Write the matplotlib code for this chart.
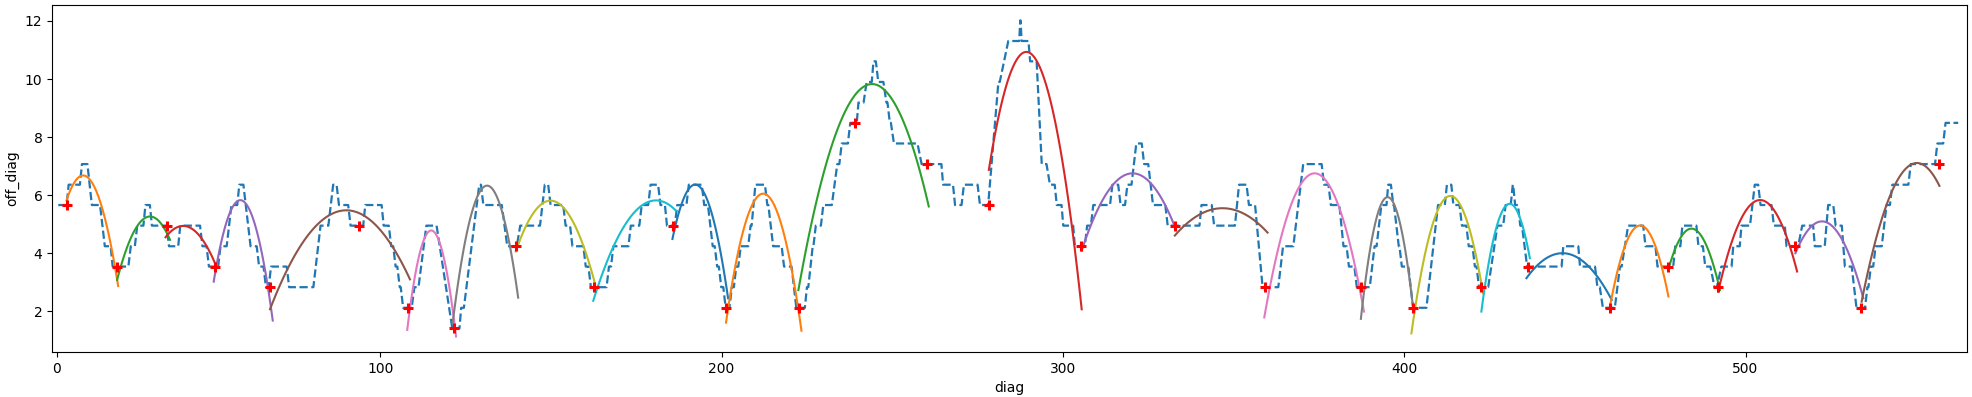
import numpy as np
import matplotlib
matplotlib.use("Agg")
import matplotlib.pyplot as plt

# ---- step path (flat runs): start diag, end diag, off_diag level ----
flat_start = [5.66, 8.7, 12.6, 15.5, 19.3, 21.6, 26.9, 28.8, 31.2, 33.1, 38.1, 41.4, 47.9, 49.8, 53.2, 56.4, 58.7,
              62.0, 64.5, 66.5, 68.0, 73.3, 82.5, 86.2, 87.9, 91.3, 95.6, 101.0, 103.2, 104.5, 105.7, 106.7, 110.0,
              113.5, 121.1, 123.7, 129.0, 130.2, 137.2, 141.0, 148.2, 149.9, 154.3, 156.3, 160.2, 161.7, 167.0, 168.3,
              173.4, 176.6, 179.2, 182.1, 184.0, 187.0, 190.4, 194.9, 197.4, 198.7, 199.9, 201.2, 203.0, 204.3, 205.6,
              208.5, 209.9, 213.4, 215.1, 218.3, 221.2, 221.9, 225.0, 226.7, 227.6, 229.8, 233.9, 235.2, 237.7, 240.1,
              242.5, 244.5, 245.9, 248.3, 249.3, 250.5, 258.6, 264.9, 268.4, 271.0, 275.7, 281.1, 284.0, 287.5,
              287.9, 290.4, 293.8, 296.2, 298.2, 300.1, 303.5, 307.1, 308.9, 314.5, 316.9, 318.9, 321.5, 323.8, 326.4,
              330.7, 340.6, 344.3, 351.6, 354.5, 358.5, 364.5, 370.4, 376.5, 378.5, 382.2, 383.8, 386.1, 391.3, 393.3,
              395.3, 396.8, 398.4, 399.3, 402.6, 409.9, 412.5, 414.4, 416.9, 418.9, 420.7, 421.9, 427.3, 429.7, 431.8,
              432.5, 434.0, 436.0, 446.6, 451.5, 456.6, 458.2, 463.2, 465.6, 470.7, 474.2, 479.4, 481.5, 486.2, 488.2,
              490.9, 492.9, 496.4, 498.8, 502.7, 504.4, 508.3, 512.0, 516.6, 520.3, 524.2, 526.4, 529.1, 532.5, 535.7,
              536.7, 538.1, 541.3, 543.0, 548.4, 556.2, 558.6]
flat_end = [8.1, 12.0, 14.2, 17.9, 21.0, 26.2, 28.1, 30.6, 32.5, 37.4, 40.8, 47.2, 49.1, 52.5, 55.0, 58.1, 59.9,
            63.8, 65.8, 67.3, 72.6, 80.4, 84.8, 87.2, 90.6, 95.0, 100.4, 102.5, 103.8, 105.0, 106.0, 109.2, 111.2,
            116.5, 123.2, 124.5, 129.5, 135.6, 140.0, 146.8, 149.2, 153.6, 155.6, 159.5, 161.0, 166.3, 167.6, 172.7,
            175.9, 178.5, 181.4, 183.4, 186.3, 189.7, 194.2, 196.0, 198.0, 199.2, 200.5, 202.3, 203.6, 204.9, 207.8,
            208.8, 212.7, 213.7, 217.6, 220.5, 221.2, 224.4, 225.4, 226.9, 229.1, 232.3, 234.5, 237.0, 239.6, 241.6,
            244.0, 245.2, 247.4, 248.6, 249.6, 257.4, 264.4, 267.8, 270.3, 275.0, 278.1, 281.5, 287.2, 287.6,
            289.9, 292.3, 295.2, 297.6, 299.6, 303.0, 306.4, 308.2, 313.8, 316.2, 318.2, 320.1, 323.1, 325.0, 330.0,
            340.0, 343.6, 350.4, 353.8, 356.3, 363.1, 367.5, 375.8, 377.8, 381.0, 383.1, 385.4, 389.9, 391.9, 394.8,
            396.1, 397.0, 398.6, 401.2, 406.5, 411.9, 413.8, 416.2, 418.2, 420.0, 421.2, 424.6, 429.0, 431.2, 431.9,
            433.3, 434.5, 446.1, 451.0, 455.9, 457.3, 461.7, 463.7, 470.0, 473.6, 478.8, 480.9, 485.6, 487.5, 489.7,
            491.6, 495.9, 498.3, 501.3, 503.7, 507.6, 511.5, 515.4, 519.8, 523.2, 525.7, 528.2, 531.1, 535.0, 536.0,
            537.4, 539.9, 542.3, 547.7, 555.5, 557.9, 562.3]
flat_level = [5.66, 6.36, 7.07, 5.66, 4.24, 3.54, 4.24, 4.95, 5.66, 4.95, 4.24, 4.95, 4.24, 3.54, 4.24, 5.66, 6.36,
              4.24, 3.54, 2.83, 3.54, 2.83, 4.95, 6.36, 5.66, 4.95, 5.66, 4.95, 4.24, 3.54, 2.83, 2.12, 2.83,
              4.95, 1.41, 2.12, 6.36, 5.66, 4.24, 4.95, 6.36, 5.66, 4.95, 4.24, 3.54, 2.83, 3.54, 4.24,
              4.95, 5.66, 6.36, 5.66, 4.95, 5.66, 6.36, 5.66, 4.24, 3.54, 2.83, 2.12, 2.83, 3.54, 4.24,
              4.95, 6.36, 5.66, 4.24, 3.54, 2.83, 2.12, 2.83, 4.24, 4.95, 5.66, 7.07, 7.78, 8.49, 9.19,
              9.90, 10.61, 9.90, 9.19, 8.49, 7.78, 7.07, 6.36, 5.66, 6.36, 5.66, 9.90, 11.31, 12.02,
              11.31, 10.61, 7.07, 6.36, 5.66, 4.95, 4.24, 4.95, 5.66, 6.36, 5.66, 6.36, 7.78, 7.07, 5.66,
              4.95, 5.66, 4.95, 6.36, 5.66, 2.83, 4.24, 7.07, 6.36, 5.66, 4.24, 3.54, 2.83, 4.24, 5.66,
              6.36, 5.66, 4.24, 3.54, 2.12, 5.66, 6.36, 5.66, 4.95, 4.24, 3.54, 2.83, 4.95, 5.66, 6.36,
              5.66, 4.95, 3.54, 4.24, 3.54, 2.83, 2.12, 3.54, 4.95, 4.24, 3.54, 4.24, 4.95, 4.24, 3.54,
              2.83, 3.54, 4.24, 4.95, 6.36, 5.66, 4.95, 4.24, 4.95, 4.24, 5.66, 4.95, 3.54, 2.12, 2.83,
              3.54, 4.24, 5.66, 6.36, 7.07, 7.78, 8.49]

# ---- red '+' markers ----
mark_diag = [8.2, 22.9, 37.4, 51.6, 67.7, 93.75, 108.2, 121.6, 139.7, 162.6, 185.8, 201.3, 222.8, 239.1, 260.3,
             278.3, 305.2, 332.8, 359.2, 387.3, 402.5, 422.6, 436.3, 460.3, 477.4, 492.0, 514.5, 533.8, 556.8]
mark_off = [5.66, 3.54, 4.95, 3.54, 2.83, 4.95, 2.12, 1.41, 4.24, 2.83, 4.95, 2.12, 2.12, 8.49, 7.07,
            5.66, 4.24, 4.95, 2.83, 2.83, 2.12, 2.83, 3.54, 2.12, 3.54, 2.83, 4.24, 2.12, 7.07]

# ---- quadratic fit curves: (start), (top), (end) ----
fit_x0 = [8.1, 22.9, 37.1, 51.2, 67.7, 107.9, 121.2, 139.7, 162.4, 185.6, 201.3, 222.5, 278.3, 305.5, 332.8,
          359.0, 387.3, 402.1, 422.6, 435.8, 460.3, 477.4, 492.0, 514.6, 534.0]
fit_y0 = [5.83, 3.08, 4.55, 3.02, 2.07, 1.36, 1.59, 4.06, 2.36, 4.49, 1.61, 2.73, 6.87, 4.09, 4.61,
          1.79, 1.74, 1.24, 1.99, 3.14, 2.18, 3.45, 2.68, 4.00, 2.33]
fit_xp = [12.5, 33.0, 42.3, 58.4, 91.1, 114.7, 131.7, 149.7, 181.7, 191.7, 212.0, 245.4, 287.7, 320.8, 346.8,
          374.0, 395.0, 413.8, 431.4, 446.1, 469.5, 483.7, 504.5, 521.8, 549.6]
fit_yp = [6.67, 5.26, 4.94, 5.81, 5.47, 4.78, 6.32, 5.81, 5.81, 6.35, 6.05, 9.80, 10.85, 6.75, 5.55,
          6.75, 5.93, 5.97, 5.69, 4.00, 4.95, 4.84, 5.83, 5.09, 7.10]
fit_x1 = [23.2, 38.4, 51.6, 68.5, 108.7, 122.2, 140.4, 162.9, 186.6, 201.9, 223.4, 260.7, 305.5, 333.1, 359.96,
          388.2, 402.5, 423.1, 436.8, 460.8, 477.4, 492.5, 515.1, 534.5, 556.8]
fit_y1 = [2.87, 4.46, 3.65, 1.68, 3.10, 1.13, 2.47, 2.96, 5.47, 2.45, 1.33, 5.61, 2.07, 4.82, 4.71,
          1.99, 2.22, 2.62, 3.83, 2.39, 2.51, 2.73, 3.37, 2.45, 6.32]

tick_pos = [5.2, 100, 200, 300, 400, 500]
tick_lab = ["0", "100", "200", "300", "400", "500"]

fig = plt.figure(figsize=(19.72, 3.97), dpi=100)
ax = fig.add_axes([0.0265, 0.1134, 0.971, 0.874])

# build vertices of the dashed path
px, py = [], []
for s, e, l in zip(flat_start, flat_end, flat_level):
    px += [s, e]
    py += [l, l]
ax.plot(px, py, "--", color="C0", lw=1.6)

ax.plot(mark_diag, mark_off, "+", color="red", ms=7, mew=2.2, zorder=3)

for i in range(len(fit_x0)):
    coef = np.polyfit([fit_x0[i], fit_xp[i], fit_x1[i]], [fit_y0[i], fit_yp[i], fit_y1[i]], 2)
    xs = np.linspace(fit_x0[i], fit_x1[i], 120)
    ax.plot(xs, np.polyval(coef, xs), "-", color=f"C{(i + 1) % 10}", lw=1.5, zorder=2)

ax.set_xlim(3.9, 564.9)
ax.set_ylim(0.598, 12.55)
ax.set_xticks(tick_pos)
ax.set_xticklabels(tick_lab)
ax.set_yticks([2, 4, 6, 8, 10, 12])
ax.set_xlabel("diag")
ax.set_ylabel("off_diag")

fig.savefig("out.png", dpi=100)
